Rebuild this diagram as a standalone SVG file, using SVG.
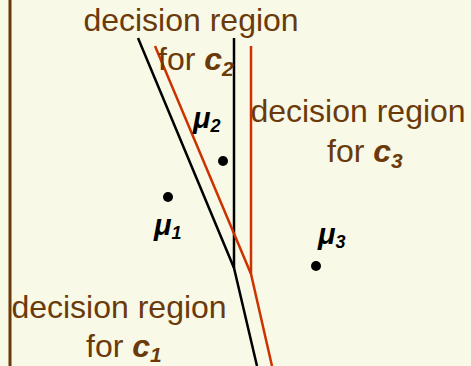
<svg xmlns="http://www.w3.org/2000/svg" width="471" height="366" viewBox="0 0 471 366">
<style>
.lbl{font-family:"Liberation Sans",Arial,sans-serif;font-size:32px;fill:#6B3A0B}
.cls{font-weight:bold;font-style:italic}
.sub{font-size:21px}
.mu{font-family:"Liberation Sans",Arial,sans-serif;font-size:29px;font-weight:bold;font-style:italic;fill:#000}
.mus{font-size:18px}
.bl{stroke:#000;stroke-width:2.5;fill:none}
.rd{stroke:#CC3300;stroke-width:2.5;fill:none}
.dot{fill:#000}
</style>
<rect width="471" height="366" fill="#F9F9E7"/>
<line x1="10" y1="0" x2="10" y2="366" stroke="#6B3A0B" stroke-width="3"/>
<g id="boundaries">
<polyline class="bl" points="138,38 234,268 257,366"/>
<line class="bl" x1="234" y1="38" x2="234" y2="268"/>
<polyline class="rd" points="155,46 251,274 272,366"/>
<line class="rd" x1="251" y1="46" x2="251" y2="274"/>
</g>
<g id="region-c2">
<text class="lbl" x="191" y="31" text-anchor="middle">decision region</text>
<text class="lbl" x="158" y="70">for <tspan class="cls">c</tspan><tspan class="cls sub" dy="6">2</tspan></text>
</g>
<g id="region-c3">
<text class="lbl" x="358" y="122" text-anchor="middle">decision region</text>
<text class="lbl" x="327" y="162">for <tspan class="cls">c</tspan><tspan class="cls sub" dy="6">3</tspan></text>
</g>
<g id="region-c1">
<text class="lbl" x="119" y="318" text-anchor="middle">decision region</text>
<text class="lbl" x="86" y="357">for <tspan class="cls">c</tspan><tspan class="cls sub" dy="5">1</tspan></text>
</g>
<g id="mu2">
<circle class="dot" cx="223" cy="161" r="5"/>
<text class="mu" x="193" y="128">μ<tspan class="mus" dy="4">2</tspan></text>
</g>
<g id="mu1">
<circle class="dot" cx="168" cy="197" r="5"/>
<text class="mu" x="154" y="235">μ<tspan class="mus" dy="4">1</tspan></text>
</g>
<g id="mu3">
<circle class="dot" cx="316" cy="266" r="5"/>
<text class="mu" x="318" y="244">μ<tspan class="mus" dy="4">3</tspan></text>
</g>
</svg>
